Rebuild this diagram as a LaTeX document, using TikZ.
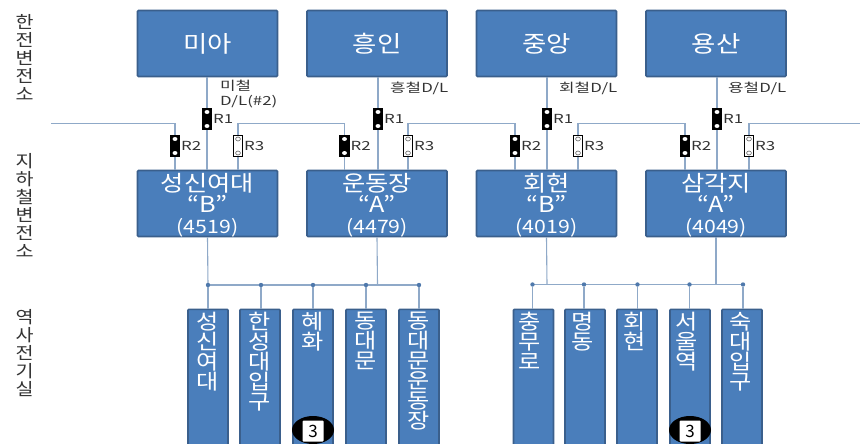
\documentclass[tikz,border=0pt]{standalone}
\usepackage{fontspec}
\setmainfont{Noto Sans CJK KR}
\newfontfamily\kr[FakeStretch=1.15]{Noto Sans CJK KR}
\newfontfamily\krwide[FakeStretch=1.35]{Noto Sans CJK KR}
\definecolor{boxfill}{HTML}{4A7EBB}
\definecolor{boxedge}{HTML}{3A5F8C}
\definecolor{wire}{HTML}{8FA9C8}
\definecolor{dotc}{HTML}{4F79AC}
\definecolor{ink}{HTML}{333333}
\newcommand{\numline}[1]{{\fontsize{18.5}{21}\selectfont #1}}
\usetikzlibrary{shapes.geometric}
\tikzset{
  bluebox/.style={rectangle,rounded corners=1pt,draw=boxedge,line width=1.6pt,fill=boxfill,inner sep=0pt,text=white,align=center},
  topbox/.style={bluebox,minimum width=140pt,minimum height=66pt,font=\kr\fontsize{23}{26}\selectfont},
  midbox/.style={bluebox,minimum width=140pt,minimum height=66pt},
  midtext/.style={text=white,align=center,inner sep=0pt,font=\kr\fontsize{22}{21}\selectfont},
  stbox/.style={bluebox,anchor=north,minimum width=40pt,minimum height=150pt},
  sttext/.style={anchor=north,text=white,align=center,inner sep=0pt,font=\kr\fontsize{21}{20}\selectfont},
  sidetext/.style={text=ink,align=center,inner sep=0pt,font=\kr\fontsize{17}{18}\selectfont},
  small/.style={text=ink,inner sep=0pt,align=left,font=\krwide\fontsize{12.5}{15}\selectfont},
  wireline/.style={draw=wire,line width=1.1pt},
  swon/.style={rectangle,draw=black,fill=black,line width=.6pt,minimum width=9.5pt,minimum height=21.5pt,inner sep=0pt,
    path picture={\fill[white] (path picture bounding box.center)++(0,7pt) circle[x radius=2.4pt,y radius=2pt];
                  \fill[white] (path picture bounding box.center)++(0,-7pt) circle[x radius=2.4pt,y radius=2pt];}},
  swoff/.style={rectangle,draw=black,fill=white,line width=.6pt,minimum width=9.5pt,minimum height=21.5pt,inner sep=0pt,
    path picture={\draw[black!70,line width=.5pt] (path picture bounding box.center)++(0,7pt) circle[x radius=2.4pt,y radius=2pt];
                  \draw[black!70,line width=.5pt] (path picture bounding box.center)++(0,-7pt) circle[x radius=2.4pt,y radius=2pt];}},
  busdot/.style={circle,fill=dotc,inner sep=0pt,minimum size=4.4pt},
  badge/.style={ellipse,fill=black,minimum width=42pt,minimum height=28pt,inner sep=0pt},
  badgeno/.style={rectangle,rounded corners=1pt,fill=white,text=black,minimum width=21pt,minimum height=21pt,inner sep=0pt,font=\fontsize{17}{17}\selectfont},
}
\begin{document}
\begin{tikzpicture}[x=1pt,y=-1pt]
\useasboundingbox (0,0) rectangle (860,444);
\clip (0,0) rectangle (860,444);
\fill[white] (0,0) rectangle (860,444);
\coordinate (wl) at (51,123.5);
\coordinate (wr) at (860,123.5);
\coordinate (b1) at (208,285);
\coordinate (b2) at (377.5,285);
\coordinate (b3) at (547,284.5);
\coordinate (b4) at (716,284.5);
% substations
\node[topbox] (h1) at (207.5,43.5) {미아};
\node[topbox] (h2) at (377,43.5) {흥인};
\node[topbox] (h3) at (546.5,43.5) {중앙};
\node[topbox] (h4) at (716,43.5) {용산};
\node[midbox] (m1) at (207.5,203.5) {};
\node[midbox] (m2) at (377,203.5) {};
\node[midbox] (m3) at (546.5,203.5) {};
\node[midbox] (m4) at (716,203.5) {};
\node[midtext] (mt1) at (207.5,205) {성신여대\\“B”\\\numline{(4519)}};
\node[midtext] (mt2) at (377,205) {운동장\\“A”\\\numline{(4479)}};
\node[midtext] (mt3) at (546.5,205) {회현\\“B”\\\numline{(4019)}};
\node[midtext] (mt4) at (716,205) {삼각지\\“A”\\\numline{(4049)}};
% switches
\node[swon] (r11) at (207,119) {};
\node[swon] (r12) at (378,119) {};
\node[swon] (r13) at (547,119) {};
\node[swon] (r14) at (717,119) {};
\node[swon] (r21) at (175,146) {};
\node[swon] (r22) at (344.5,146) {};
\node[swon] (r23) at (515,146) {};
\node[swon] (r24) at (685,146) {};
\node[swoff] (r31) at (238,146) {};
\node[swoff] (r32) at (408,146) {};
\node[swoff] (r33) at (578,146) {};
\node[swoff] (r34) at (749,146) {};
% stations
\foreach \n/\x in {s1/208,s2/260,s3/313,s4/366,s5/419,s6/533.5,s7/585,s8/637,s9/690,s10/742}
  \node[stbox] (\n) at (\x,308.5) {};
% wires
\draw[wireline] (r11.north |- h1.south) -- (r11.north);
\draw[wireline] (r11.south) -- (r11.south |- m1.north);
\draw[wireline] (r12.north |- h2.south) -- (r12.north);
\draw[wireline] (r12.south) -- (r12.south |- m2.north);
\draw[wireline] (r13.north |- h3.south) -- (r13.north);
\draw[wireline] (r13.south) -- (r13.south |- m3.north);
\draw[wireline] (r14.north |- h4.south) -- (r14.north);
\draw[wireline] (r14.south) -- (r14.south |- m4.north);
\draw[wireline] (wl) -| (r21.north);
\draw[wireline] (r21.south) -- (r21.south |- m1.north);
\draw[wireline] (r22.north) |- (r31.north |- wl) -- (r31.north);
\draw[wireline] (r22.south) -- (r22.south |- m2.north);
\draw[wireline] (r31.south) -- (r31.south |- m1.north);
\draw[wireline] (r23.north) |- (r32.north |- wl) -- (r32.north);
\draw[wireline] (r23.south) -- (r23.south |- m3.north);
\draw[wireline] (r32.south) -- (r32.south |- m2.north);
\draw[wireline] (r24.north) |- (r33.north |- wl) -- (r33.north);
\draw[wireline] (r24.south) -- (r24.south |- m4.north);
\draw[wireline] (r33.south) -- (r33.south |- m3.north);
\draw[wireline] (wr) -| (r34.north);
\draw[wireline] (r34.south) -- (r34.south |- m4.north);
\draw[wireline] (m1.south) -- (b1);
\draw[wireline] (m2.south) -- (b2);
\draw[wireline] (m3.south) -- (b3);
\draw[wireline] (m4.south) -- (b4);
\draw[wireline] (b1) -- (s5.north |- b1);
\draw[wireline] (s6.north |- b3) -- (s10.north |- b3);
\foreach \n/\cx in {s1/208,s2/261,s3/313,s4/366,s5/419}{
  \node[busdot] (d\n) at (\cx,285) {};
  \draw[wireline] (d\n) -- (\n.north -| d\n);
}
\foreach \n/\cx in {s6/532.5,s7/584,s8/637.5,s9/689.5,s10/743}{
  \node[busdot] (d\n) at (\cx,284.5) {};
  \draw[wireline] (d\n) -- (\n.north -| d\n);
}
% station names
\node[sttext] (t1) at (208,312) {성\\신\\여\\대};
\node[sttext] (t2) at (260,312) {한\\성\\대\\입\\구};
\node[sttext] (t3) at (313,312) {혜\\화};
\node[sttext] (t4) at (366,312) {동\\대\\문};
\node[sttext] (t5) at (419,312) {동\\대\\문\\운\\동\\장};
\node[sttext] (t6) at (530,312) {충\\무\\로};
\node[sttext] (t7) at (583,312) {명\\동};
\node[sttext] (t8) at (635,312) {회\\현};
\node[sttext] (t9) at (687,312) {서\\울\\역};
\node[sttext] (t10) at (741,312) {숙\\대\\입\\구};
% line 3 badges
\node[badge] (e1) at (313,430) {};
\node[badgeno] (n1) at (313,431) {3};
\node[badge] (e2) at (690,430) {};
\node[badgeno] (n2) at (690,431) {3};
% side headings
\node[sidetext] (l1) at (24.5,57.5) {한\\전\\변\\전\\소};
\node[sidetext] (l2) at (24.5,205) {지\\하\\철\\변\\전\\소};
\node[sidetext] (l3) at (24.5,353) {역\\사\\전\\기\\실};
% small labels
\node[small,anchor=west] (c1) at (220,94.5) {미철\\D/L(\#2)};
\node[small,anchor=west] (c2) at (390,88) {흥철D/L};
\node[small,anchor=west] (c3) at (559,88) {회철D/L};
\node[small,anchor=west] (c4) at (728,88) {용철D/L};
\foreach \a/\t/\n in {r11/R1/q1,r12/R1/q2,r13/R1/q3,r14/R1/q4,r21/R2/q5,r22/R2/q6,r23/R2/q7,r24/R2/q8,r31/R3/q9,r32/R3/q10,r33/R3/q11,r34/R3/q12}
  \node[small,anchor=west,xshift=.8pt] (\n) at (\a.east) {\t};
\end{tikzpicture}
\end{document}
